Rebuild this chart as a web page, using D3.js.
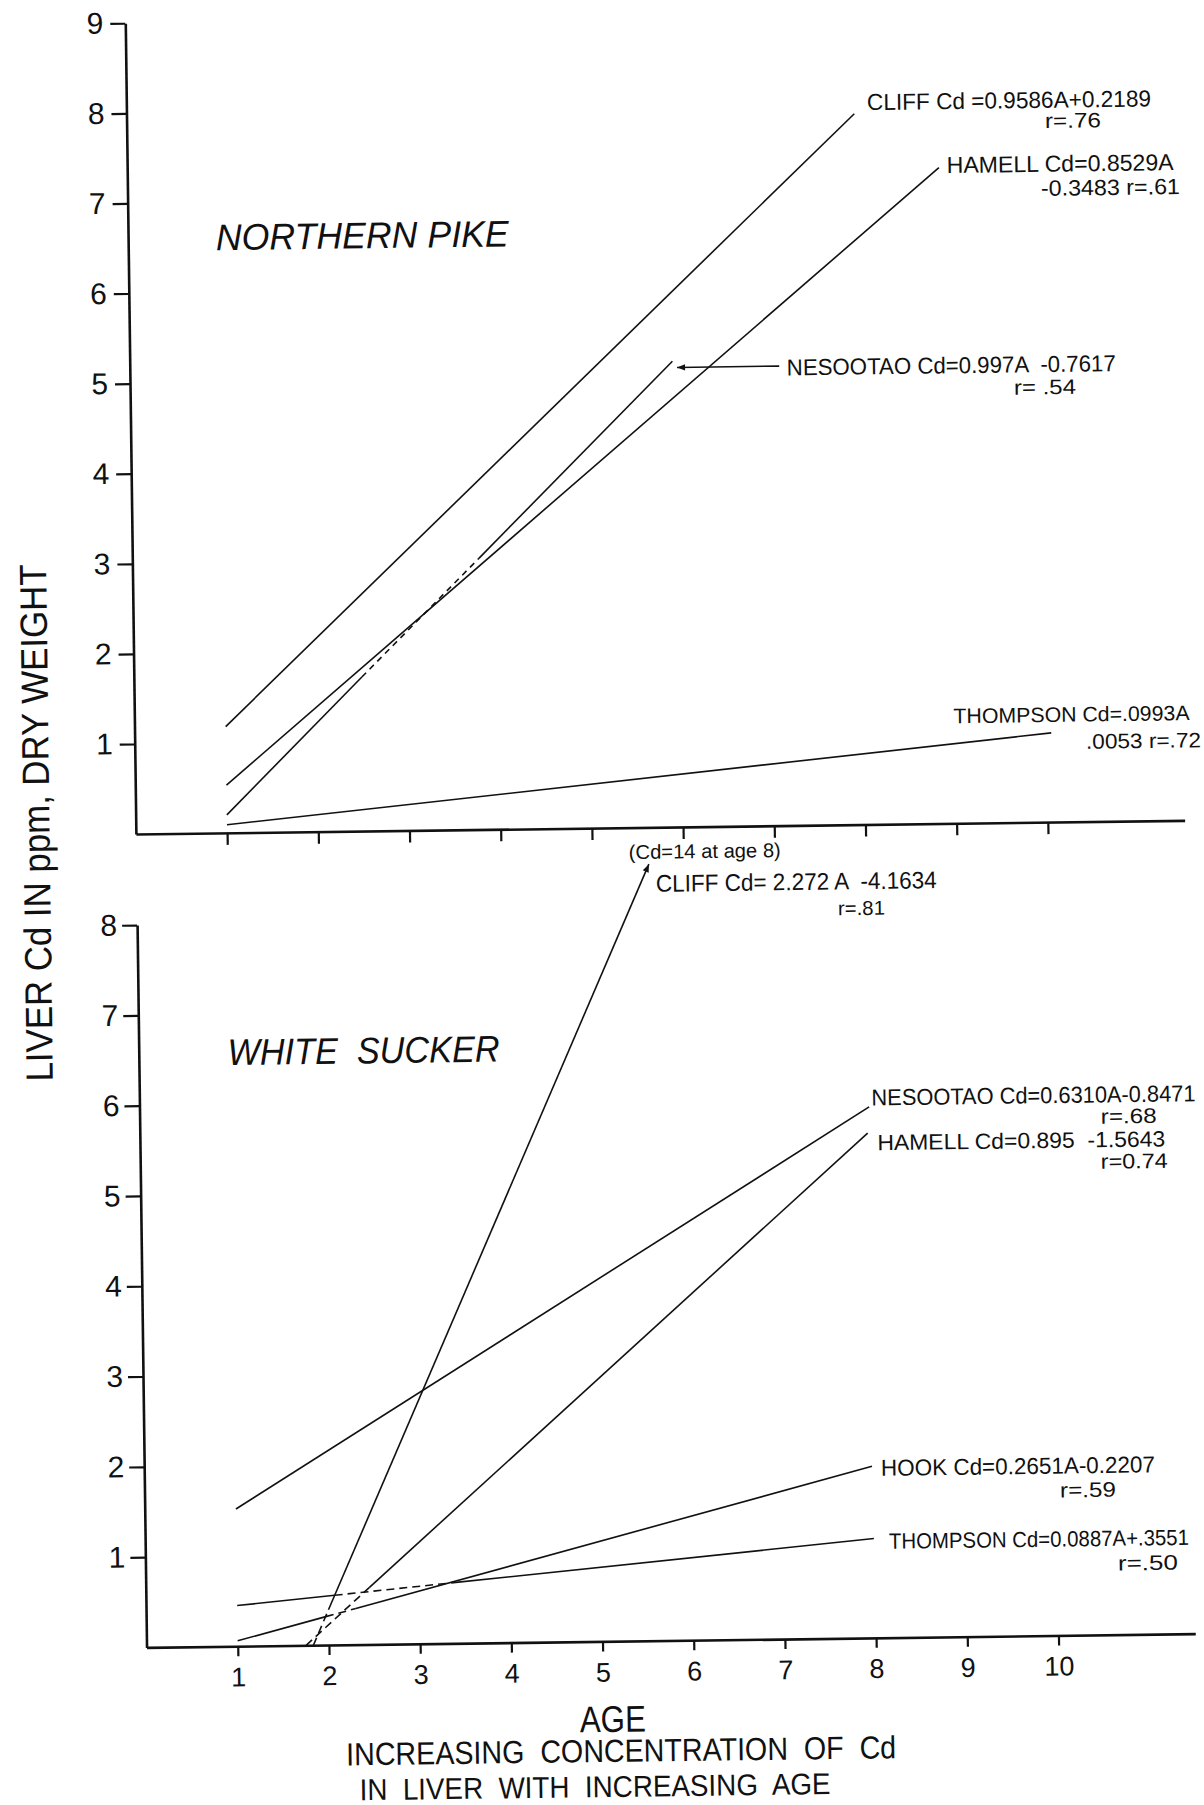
<!DOCTYPE html>
<html>
<head>
<meta charset="utf-8">
<script src="https://cdn.jsdelivr.net/npm/d3@7"></script>
<style>
  html, body { margin: 0; padding: 0; background: #fff; }
  svg { display: block; }
  text { font-family: "Liberation Sans", Arial, sans-serif; fill: #111; white-space: pre; }
</style>
</head>
<body>
<svg id="chart" width="1204" height="1805"></svg>
<script>
// ---- data ---------------------------------------------------------------
const ageTicks = [1, 2, 3, 4, 5, 6, 7, 8, 9, 10];
const ageTickLabels = ["1", "2", "3", "4", "5", "6", "7", "8", "9", "10"];
const pikeCdTicks = [1, 2, 3, 4, 5, 6, 7, 8, 9];
const suckerCdTicks = [1, 2, 3, 4, 5, 6, 7, 8];

// Northern pike fitted lines, vertices as [age, Cd ppm]
const pikeCliff     = [[1, 1.18], [7.98, 7.89]];
const pikeHamell    = [[1, 0.53], [8.9, 7.28]];
const pikeNesootao  = [[1, 0.20], [2.5, 1.71], [3.8, 3.01], [5.95, 5.17]];
const pikeThompson  = [[1, 0.09], [10.05, 0.99]];
// pointer from the Nesootao equation to the end of its line
const pikeNesootaoPointer = [[7.12, 5.1], [6.0, 5.1]];

// White sucker fitted lines, vertices as [age, Cd ppm]
const suckerCliff    = [[1.83, 0], [2.0, 0.39], [5.62, 8.6]];
const suckerNesootao = [[1, 1.52], [8, 5.88]];
const suckerHamell   = [[1.75, 0], [2.45, 0.63], [7.98, 5.59]];
const suckerHook     = [[1, 0.06], [1.97, 0.315], [2.3, 0.40], [7.98, 1.9]];
const suckerThompson = [[1, 0.45], [2.07, 0.55], [3.35, 0.67], [7.99, 1.1]];

// equation labels
const pikeLabels = [
  "CLIFF Cd =0.9586A+0.2189", "r=.76",
  "HAMELL Cd=0.8529A", "-0.3483 r=.61",
  "NESOOTAO Cd=0.997A  -0.7617", "r= .54",
  "THOMPSON Cd=.0993A", ".0053 r=.72"
];
const suckerLabels = [
  "(Cd=14 at age 8)", "CLIFF Cd= 2.272 A  -4.1634", "r=.81",
  "NESOOTAO Cd=0.6310A-0.8471", "r=.68",
  "HAMELL Cd=0.895  -1.5643", "r=0.74",
  "HOOK Cd=0.2651A-0.2207", "r=.59",
  "THOMPSON Cd=0.0887A+.3551", "r=.50"
];
const panelTitles = ["NORTHERN PIKE", "WHITE  SUCKER"];
const yTitle = "LIVER Cd IN ppm, DRY WEIGHT";
const xTitles = ["AGE", "INCREASING  CONCENTRATION  OF  Cd", "IN  LIVER  WITH  INCREASING  AGE"];

// ---- styles (segment patterns per line: false = solid, true = dashed) ----
const pikeSegDash = [[false], [false], [false, true, false], [false]];
const suckerSegDash = [[true, false], [false], [true, false], [false, true, false], [false, true, false]];

// ---- layout -------------------------------------------------------------
const svg = d3.select("#chart");
const root = svg.append("g").attr("transform", "rotate(-0.75,600,900)");

const x = d3.scaleLinear().domain([0, 11.5]).range([136.8, 1185.6]);
const yTop = d3.scaleLinear().domain([0, 9]).range([828, 17.1]);
const yBot = d3.scaleLinear().domain([0, 8]).range([1641.4, 919]);

const defs = svg.append("defs");
defs.append("marker")
  .attr("id", "head").attr("viewBox", "0 0 10 10")
  .attr("refX", 10).attr("refY", 5)
  .attr("markerWidth", 17).attr("markerHeight", 8)
  .attr("markerUnits", "userSpaceOnUse").attr("orient", "auto")
  .append("path").attr("d", "M0,1 L10,5 L0,9 Z").attr("fill", "#111");

function styleAxis(g, fontSize) {
  g.attr("font-family", null).attr("font-size", null);
  g.select(".domain").attr("stroke", "#111").attr("stroke-width", 2.6);
  g.selectAll(".tick line").attr("stroke", "#111").attr("stroke-width", 2.2);
  g.selectAll(".tick text").attr("fill", "#111").style("font-size", fontSize + "px");
}

// top panel axes
root.append("g").attr("transform", `translate(0,${yTop(0)})`)
  .call(d3.axisBottom(x).tickValues(ageTicks).tickSize(12).tickSizeOuter(0).tickFormat(""))
  .call(g => styleAxis(g, 27));
root.append("g").attr("transform", `translate(${x(0)},0)`)
  .call(d3.axisLeft(yTop).tickValues(pikeCdTicks).tickSize(15).tickPadding(7).tickSizeOuter(0))
  .call(g => styleAxis(g, 30));

// bottom panel axes
root.append("g").attr("transform", `translate(0,${yBot(0)})`)
  .call(d3.axisBottom(x).tickValues(ageTicks).tickSize(10).tickPadding(11)
    .tickSizeOuter(0).tickFormat((d, i) => ageTickLabels[i]))
  .call(g => styleAxis(g, 27));
root.append("g").attr("transform", `translate(${x(0)},0)`)
  .call(d3.axisLeft(yBot).tickValues(suckerCdTicks).tickSize(15).tickPadding(5).tickSizeOuter(0))
  .call(g => styleAxis(g, 30));

// fitted lines, split into solid and dashed stretches
function drawSeries(pts, dash, y, dashArray, arrowEnd) {
  const line = d3.line().x(d => x(d[0])).y(d => y(d[1]));
  for (let i = 0; i < pts.length - 1; i++) {
    const p = root.append("path")
      .attr("d", line([pts[i], pts[i + 1]]))
      .attr("fill", "none").attr("stroke", "#111").attr("stroke-width", 1.6)
      .attr("stroke-dasharray", dash[i] ? dashArray : null);
    if (arrowEnd && i === pts.length - 2) p.attr("marker-end", "url(#head)");
  }
}

[pikeCliff, pikeHamell, pikeNesootao, pikeThompson]
  .forEach((s, i) => drawSeries(s, pikeSegDash[i], yTop, "6,5", false));
drawSeries(pikeNesootaoPointer, [false], yTop, null, true);

[suckerCliff, suckerNesootao, suckerHamell, suckerHook, suckerThompson]
  .forEach((s, i) => drawSeries(s, suckerSegDash[i], yBot, "8,5", i === 0));

// annotation placement: [x, baseline y, text length, font size]
const pikeLabelPos = [
  [877.4, 113.7, 284, 23], [1055.1, 133.9, 56, 21],
  [956.2, 177.7, 227, 23], [1050.2, 201.7, 139, 22],
  [793.7, 377.9, 329, 23], [1020.6, 400.1, 62, 21],
  [955.9, 727.9, 236, 21], [1088.0, 755.1, 115, 21]
];
const suckerLabelPos = [
  [629.4, 859.4, 152, 20], [656.0, 892.6, 281, 24], [837.8, 918.4, 47, 20],
  [868.9, 1109.0, 324, 23], [1097.9, 1130.2, 56, 21],
  [874.1, 1153.8, 288, 22], [1097.3, 1175.3, 67, 21],
  [873.5, 1479.5, 274, 23], [1052.2, 1503.4, 56, 21],
  [880.5, 1552.5, 300, 22], [1109.2, 1577.2, 60, 21]
];

function putText(str, pos, italic) {
  root.append("text")
    .attr("x", pos[0]).attr("y", pos[1])
    .attr("textLength", pos[2]).attr("lengthAdjust", "spacingAndGlyphs")
    .style("font-size", pos[3] + "px")
    .style("font-style", italic ? "italic" : "normal")
    .text(str);
}
pikeLabels.forEach((t, i) => putText(t, pikeLabelPos[i], false));
suckerLabels.forEach((t, i) => putText(t, suckerLabelPos[i], false));

const titlePos = [[224.5, 245.2, 293, 37], [225.6, 1060.2, 272, 37]];
panelTitles.forEach((t, i) => putText(t, titlePos[i], true));

const xTitlePos = [[569.1, 1731.9, 66, 37], [335.0, 1762.0, 550, 32], [347.9, 1797.0, 471, 30]];
xTitles.forEach((t, i) => putText(t, xTitlePos[i], false));

root.append("text")
  .attr("transform", "translate(50.5,815.6) rotate(-90)")
  .attr("text-anchor", "middle")
  .attr("textLength", 517).attr("lengthAdjust", "spacingAndGlyphs")
  .style("font-size", "38px")
  .text(yTitle);
</script>
</body>
</html>
